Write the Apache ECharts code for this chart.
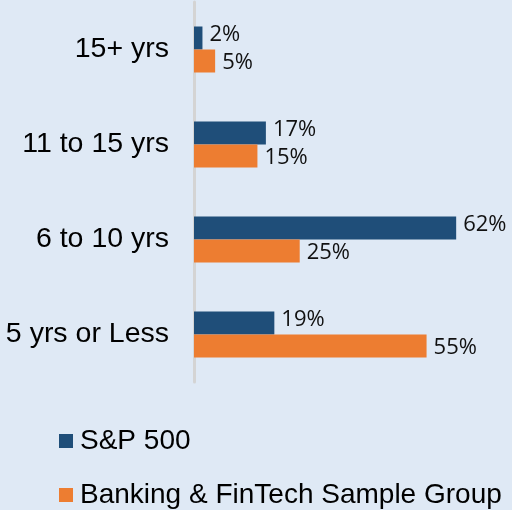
<!DOCTYPE html>
<html>
<head>
<meta charset="utf-8">
<title>Tenure</title>
<script src="https://cdn.jsdelivr.net/npm/echarts@6/dist/echarts.min.js"></script>
<style>
  html, body { margin: 0; padding: 0; background: #dfe9f5; }
  #chart { width: 512px; height: 510px; }
</style>
</head>
<body>
<div id="chart"></div>
<script type="text/javascript">
    // data
    var categories = ['15+ yrs', '11 to 15 yrs', '6 to 10 yrs', '5 yrs or Less'];
    var seriesNames = ['S&P 500', 'Banking & FinTech Sample Group'];
    var sp500 = [2, 17, 62, 19];
    var banking = [5, 15, 25, 55];

    var chart = echarts.init(document.getElementById('chart'));

    var labelStyle = function (dy) {
      return {
        show: true,
        position: 'right',
        distance: 7,
        offset: [0, dy],
        formatter: '{c}%',
        fontFamily: 'Open Sans',
        fontSize: 22,
        color: '#111'
      };
    };

    // one legend per row, stacked like the original
    var legendRow = function (name, top) {
      return {
        left: 54,
        top: top,
        icon: 'rect',
        itemWidth: 14,
        itemHeight: 14,
        textStyle: {
          fontFamily: 'Liberation Sans',
          fontSize: 28,
          lineHeight: 30,
          color: '#000',
          padding: [0, 0, 0, 2]
        },
        data: [name]
      };
    };

    var option = {
      backgroundColor: '#dfe9f5',
      animation: false,
      grid: { left: 194, top: 2, width: 296, height: 380 },
      xAxis: {
        type: 'value',
        min: 0,
        max: 70,
        show: false
      },
      yAxis: {
        type: 'category',
        data: categories,
        inverse: true,
        axisLine: { show: true, lineStyle: { color: '#d4d4d4', width: 3 } },
        axisTick: { show: false },
        axisLabel: {
          margin: 25,
          fontFamily: 'Liberation Sans',
          fontSize: 28.5,
          color: '#000'
        }
      },
      legend: [
        legendRow(seriesNames[0], 421),
        legendRow(seriesNames[1], 475)
      ],
      series: [
        {
          name: seriesNames[0],
          type: 'bar',
          data: sp500,
          barWidth: 23,
          barGap: '0%',
          itemStyle: { color: '#1f4e79' },
          label: labelStyle(-3)
        },
        {
          name: seriesNames[1],
          type: 'bar',
          data: banking,
          barWidth: 23,
          barGap: '0%',
          itemStyle: { color: '#ed7d31' },
          label: labelStyle(2)
        }
      ]
    };

    chart.setOption(option);
</script>
</body>
</html>
